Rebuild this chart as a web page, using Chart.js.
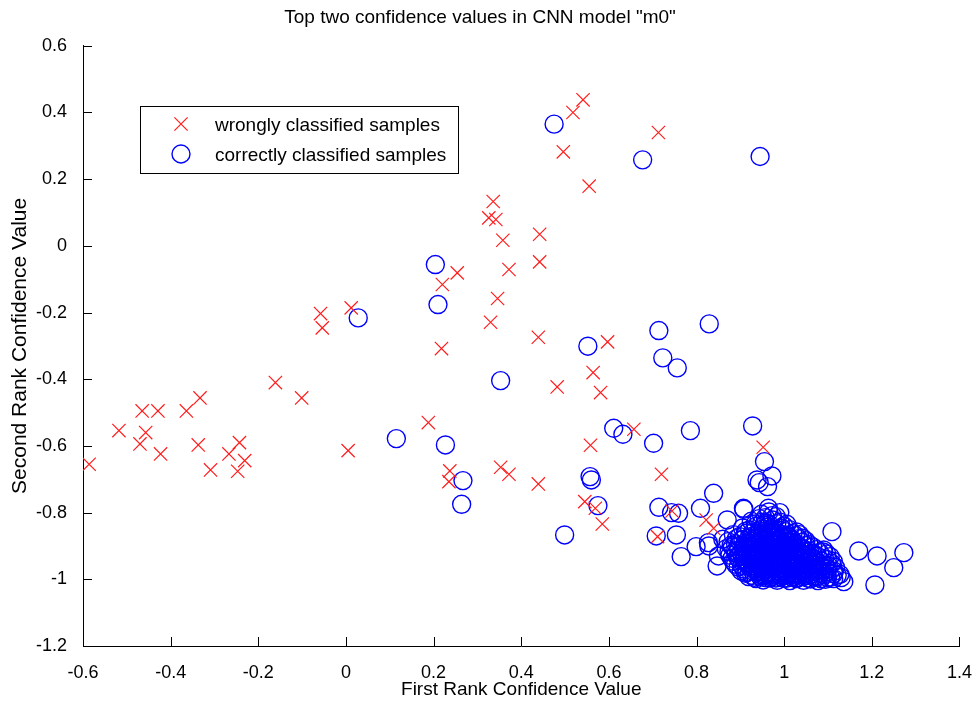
<!DOCTYPE html>
<html>
<head>
<meta charset="utf-8">
<script src="https://cdn.jsdelivr.net/npm/chart.js@4.4.1/dist/chart.umd.min.js"></script>
<style>
  html, body { margin: 0; padding: 0; background: #fff; }
</style>
</head>
<body>
<canvas id="myChart" width="980" height="701"></canvas>
<script>
var FONT = '"Liberation Sans", Arial, sans-serif';

var xTicks = [-0.6, -0.4, -0.2, 0, 0.2, 0.4, 0.6, 0.8, 1, 1.2, 1.4];
var yTicks = [-1.2, -1, -0.8, -0.6, -0.4, -0.2, 0, 0.2, 0.4, 0.6];

// red crosses
var wrongly = [
  [-0.058, -0.203], [-0.054, -0.246], [0.012, -0.186], [0.220, -0.116], [0.254, -0.081],
  [0.218, -0.308], [0.541, 0.438], [0.518, 0.400], [0.713, 0.340], [0.496, 0.282],
  [0.555, 0.179], [0.336, 0.133], [0.326, 0.084], [0.342, 0.079], [0.358, 0.017],
  [0.442, 0.035], [0.442, -0.048], [0.372, -0.071], [0.346, -0.158], [0.330, -0.229],
  [0.439, -0.274], [0.597, -0.288], [-0.586, -0.655], [-0.518, -0.554], [-0.465, -0.495],
  [-0.429, -0.495], [-0.457, -0.560], [-0.470, -0.594], [-0.423, -0.624], [-0.364, -0.495],
  [-0.333, -0.456], [-0.337, -0.597], [-0.309, -0.672], [-0.267, -0.624], [-0.243, -0.590],
  [-0.231, -0.644], [-0.247, -0.676], [-0.161, -0.410], [-0.101, -0.456], [0.005, -0.614],
  [0.188, -0.530], [0.237, -0.675], [0.235, -0.707], [0.564, -0.380], [0.482, -0.423],
  [0.581, -0.440], [0.657, -0.550], [0.558, -0.598], [0.353, -0.664], [0.372, -0.685],
  [0.439, -0.714], [0.720, -0.685], [0.952, -0.604], [0.545, -0.767], [0.569, -0.787],
  [0.585, -0.834], [0.744, -0.795], [0.822, -0.822], [0.839, -0.847], [0.711, -0.872]
];

// blue circles, scattered ones
var correctlyOuter = [
  [0.204, -0.056], [0.210, -0.176], [0.028, -0.216], [0.475, 0.365], [0.677, 0.258],
  [0.945, 0.268], [0.714, -0.254], [0.829, -0.234], [0.552, -0.301], [0.723, -0.336],
  [0.756, -0.366], [0.115, -0.578], [0.227, -0.597], [0.267, -0.704], [0.264, -0.775],
  [0.353, -0.404], [0.611, -0.547], [0.632, -0.565], [0.702, -0.592], [0.786, -0.554],
  [0.928, -0.540], [0.557, -0.692], [0.560, -0.702], [0.575, -0.779], [0.499, -0.867],
  [0.714, -0.784], [0.743, -0.800], [0.759, -0.802], [0.708, -0.870], [0.754, -0.867],
  [0.765, -0.932], [0.799, -0.902], [0.809, -0.787], [0.839, -0.742], [0.828, -0.900],
  [0.847, -0.960], [0.955, -0.647], [0.938, -0.702], [0.943, -0.710], [0.972, -0.690],
  [0.962, -0.722], [1.109, -0.857], [1.170, -0.915], [1.212, -0.930], [1.273, -0.920],
  [1.250, -0.965], [1.207, -1.017], [1.136, -1.007], [1.130, -0.995], [0.908, -0.790],
  [0.870, -0.822], [0.907, -0.787], [0.964, -0.787], [0.990, -0.800], [0.827, -0.890],
  [1.090, -0.912], [0.860, -0.880], [0.850, -0.930]
];

// blue circles, dense group near (1, -0.95)
var correctlyDense = [
  [0.948, -0.805], [0.965, -0.798], [0.982, -0.812],
  [0.925, -0.826], [0.943, -0.818], [0.958, -0.831], [0.974, -0.822], [0.991, -0.829], [1.006, -0.835],
  [0.905, -0.846], [0.921, -0.852], [0.936, -0.841], [0.951, -0.849], [0.964, -0.843], [0.979, -0.853],
  [0.993, -0.846], [1.012, -0.851], [1.028, -0.858],
  [0.884, -0.866], [0.898, -0.872], [0.913, -0.862], [0.927, -0.871], [0.941, -0.865], [0.956, -0.874],
  [0.969, -0.864], [0.983, -0.871], [0.997, -0.866], [1.011, -0.874], [1.026, -0.869], [1.042, -0.877],
  [0.872, -0.887], [0.889, -0.893], [0.903, -0.882], [0.917, -0.891], [0.931, -0.885], [0.945, -0.894],
  [0.958, -0.884], [0.971, -0.892], [0.985, -0.886], [0.998, -0.895], [1.012, -0.887], [1.027, -0.893],
  [1.041, -0.889], [1.057, -0.896],
  [0.868, -0.908], [0.882, -0.903], [0.896, -0.912], [0.909, -0.905], [0.923, -0.913], [0.936, -0.904],
  [0.949, -0.911], [0.962, -0.906], [0.975, -0.914], [0.988, -0.903], [1.001, -0.912], [1.015, -0.907],
  [1.029, -0.915], [1.044, -0.909], [1.058, -0.916], [1.074, -0.911], [1.089, -0.918],
  [0.876, -0.928], [0.891, -0.922], [0.904, -0.931], [0.918, -0.925], [0.931, -0.933], [0.944, -0.924],
  [0.956, -0.932], [0.968, -0.926], [0.980, -0.934], [0.993, -0.923], [1.005, -0.931], [1.018, -0.927],
  [1.032, -0.935], [1.046, -0.928], [1.061, -0.936], [1.076, -0.931], [1.092, -0.938], [1.105, -0.932],
  [0.884, -0.946], [0.898, -0.941], [0.911, -0.950], [0.924, -0.944], [0.937, -0.953], [0.949, -0.942],
  [0.961, -0.951], [0.973, -0.945], [0.985, -0.954], [0.997, -0.943], [1.009, -0.952], [1.022, -0.947],
  [1.035, -0.955], [1.049, -0.948], [1.063, -0.956], [1.078, -0.951], [1.093, -0.958], [1.108, -0.952],
  [0.895, -0.963], [0.908, -0.969], [0.921, -0.961], [0.933, -0.972], [0.945, -0.964], [0.957, -0.971],
  [0.969, -0.962], [0.981, -0.973], [0.993, -0.965], [1.005, -0.971], [1.017, -0.963], [1.029, -0.974],
  [1.042, -0.966], [1.056, -0.973], [1.070, -0.967], [1.084, -0.975], [1.099, -0.969], [1.114, -0.976],
  [0.912, -0.982], [0.926, -0.988], [0.939, -0.979], [0.951, -0.990], [0.963, -0.983], [0.975, -0.991],
  [0.987, -0.981], [0.999, -0.989], [1.011, -0.984], [1.023, -0.992], [1.035, -0.983], [1.048, -0.990],
  [1.062, -0.985], [1.076, -0.993], [1.091, -0.986], [1.106, -0.994], [1.121, -0.988],
  [0.936, -0.998], [0.952, -1.002], [0.968, -0.996], [0.984, -1.003], [0.998, -0.997], [1.013, -1.004],
  [1.028, -0.998], [1.044, -1.003], [1.060, -0.999], [1.077, -1.004], [1.094, -1.000],
  [0.955, -0.918], [0.982, -0.919], [1.008, -0.920], [0.967, -0.938], [0.992, -0.940], [1.016, -0.939],
  [0.951, -0.957], [0.977, -0.958], [1.003, -0.957], [1.028, -0.960], [0.963, -0.977], [0.989, -0.976],
  [1.016, -0.978], [1.041, -0.979], [0.975, -0.897], [1.000, -0.898], [0.962, -0.877], [0.990, -0.879],
  [0.970, -0.858], [0.955, -0.838],
  [0.957, -0.815], [0.973, -0.809],
  [0.934, -0.834], [0.949, -0.829], [0.966, -0.836], [0.983, -0.833], [0.999, -0.840],
  [0.912, -0.856], [0.928, -0.860], [0.944, -0.855], [0.958, -0.861], [0.975, -0.857], [0.987, -0.862],
  [1.003, -0.857], [1.020, -0.863], [1.035, -0.866],
  [0.891, -0.878], [0.906, -0.881], [0.920, -0.876], [0.934, -0.879], [0.948, -0.875], [0.963, -0.883],
  [0.977, -0.878], [0.991, -0.884], [1.004, -0.879], [1.018, -0.882], [1.033, -0.878], [1.049, -0.884],
  [0.879, -0.898], [0.895, -0.900], [0.910, -0.896], [0.924, -0.900], [0.938, -0.897], [0.951, -0.902],
  [0.965, -0.898], [0.992, -0.900], [1.006, -0.901], [1.021, -0.898], [1.035, -0.902], [1.050, -0.899],
  [1.065, -0.903],
  [0.874, -0.917], [0.889, -0.915], [0.902, -0.920], [0.916, -0.917], [0.929, -0.921], [0.942, -0.918],
  [0.969, -0.916], [0.995, -0.915], [1.022, -0.918], [1.037, -0.921], [1.051, -0.917], [1.066, -0.922],
  [1.081, -0.920], [1.097, -0.924],
  [0.881, -0.937], [0.894, -0.934], [0.908, -0.939], [0.921, -0.935], [0.934, -0.941], [0.955, -0.940],
  [0.979, -0.942], [1.004, -0.941], [1.028, -0.943], [1.041, -0.939], [1.055, -0.944], [1.069, -0.940],
  [1.084, -0.945], [1.100, -0.941], [1.112, -0.946],
  [0.889, -0.955], [0.903, -0.958], [0.916, -0.954], [0.929, -0.959], [0.941, -0.957], [0.964, -0.955],
  [0.989, -0.957], [1.015, -0.955], [1.041, -0.957], [1.055, -0.961], [1.070, -0.958], [1.086, -0.962],
  [1.101, -0.960], [1.117, -0.964],
  [0.902, -0.975], [0.915, -0.979], [0.927, -0.974], [0.940, -0.975], [0.952, -0.978], [0.976, -0.980],
  [1.002, -0.977], [1.029, -0.980], [1.054, -0.980], [1.068, -0.977], [1.083, -0.982], [1.098, -0.978],
  [1.113, -0.983], [1.127, -0.985],
  [0.919, -0.992], [0.932, -0.994], [0.945, -0.991], [0.958, -0.995], [0.970, -0.992], [0.981, -0.996],
  [0.993, -0.993], [1.005, -0.997], [1.017, -0.993], [1.030, -0.996], [1.042, -0.992], [1.055, -0.997],
  [1.069, -0.994], [1.084, -0.998], [1.099, -0.995], [1.113, -0.998],
  [0.940, -0.862], [0.953, -0.867], [0.967, -0.870], [0.980, -0.866], [0.994, -0.873], [1.007, -0.868],
  [0.924, -0.884], [0.938, -0.889], [0.952, -0.886], [0.966, -0.890], [0.979, -0.887], [0.993, -0.889],
  [1.006, -0.886], [1.020, -0.890],
  [0.914, -0.906], [0.928, -0.909], [0.942, -0.907], [0.956, -0.909], [0.969, -0.905], [0.982, -0.909],
  [0.996, -0.906], [1.010, -0.910], [1.024, -0.906], [1.038, -0.910],
  [0.910, -0.927], [0.924, -0.929], [0.938, -0.927], [0.951, -0.929], [0.963, -0.923], [0.975, -0.928],
  [0.987, -0.930], [0.999, -0.926], [1.012, -0.929], [1.025, -0.925], [1.039, -0.931], [1.053, -0.926],
  [0.917, -0.948], [0.930, -0.946], [0.943, -0.948], [0.955, -0.947], [0.967, -0.944], [0.979, -0.949],
  [0.991, -0.947], [1.003, -0.946], [1.015, -0.949], [1.028, -0.950], [1.042, -0.946], [1.057, -0.950],
  [1.071, -0.948],
  [0.927, -0.966], [0.939, -0.968], [0.951, -0.966], [0.963, -0.968], [0.975, -0.965], [0.987, -0.969],
  [0.999, -0.966], [1.011, -0.968], [1.023, -0.967], [1.036, -0.969], [1.049, -0.966], [1.063, -0.970],
  [1.077, -0.972],
  [0.945, -0.985], [0.957, -0.987], [0.969, -0.985], [0.981, -0.988], [0.993, -0.986], [1.005, -0.987],
  [1.017, -0.985], [1.029, -0.988], [1.041, -0.986], [1.055, -0.988], [1.069, -0.989]
];

function toPoints(list) {
  return list.map(function (p) { return { x: p[0], y: p[1] }; });
}

function fmt(v) {
  return String(Math.round(v * 10) / 10);
}

// ticks drawn inward, MATLAB style
var innerTicks = {
  id: 'innerTicks',
  afterDraw: function (chart) {
    var a = chart.chartArea, ctx = chart.ctx;
    var sx = chart.scales.x, sy = chart.scales.y;
    ctx.save();
    ctx.strokeStyle = '#000';
    ctx.lineWidth = 1;
    ctx.beginPath();
    sx.ticks.forEach(function (t) {
      var px = Math.round(sx.getPixelForValue(t.value)) + 0.5;
      ctx.moveTo(px, a.bottom);
      ctx.lineTo(px, a.bottom - 9);
    });
    sy.ticks.forEach(function (t) {
      var py = Math.round(sy.getPixelForValue(t.value)) + 0.5;
      ctx.moveTo(a.left, py);
      ctx.lineTo(a.left + 9, py);
    });
    ctx.stroke();
    ctx.restore();
  }
};

// legend box inside the plot
var legendBox = {
  id: 'legendBox',
  afterDraw: function (chart) {
    var ctx = chart.ctx;
    var ds = chart.data.datasets;
    ctx.save();
    ctx.fillStyle = '#fff';
    ctx.fillRect(140, 106, 318, 67);
    ctx.strokeStyle = '#000';
    ctx.lineWidth = 1;
    ctx.strokeRect(140.5, 106.5, 318, 67);

    var cx = 181, r;
    // cross
    ctx.strokeStyle = ds[0].borderColor;
    ctx.lineWidth = ds[0].borderWidth;
    r = 6.6;
    ctx.beginPath();
    ctx.moveTo(cx - r, 124 - r); ctx.lineTo(cx + r, 124 + r);
    ctx.moveTo(cx - r, 124 + r); ctx.lineTo(cx + r, 124 - r);
    ctx.stroke();
    // circle
    ctx.strokeStyle = ds[1].borderColor;
    ctx.lineWidth = ds[1].borderWidth;
    ctx.beginPath();
    ctx.arc(cx, 154, ds[1].pointRadius, 0, Math.PI * 2);
    ctx.stroke();

    ctx.fillStyle = '#000';
    ctx.font = '19px ' + FONT;
    ctx.textBaseline = 'middle';
    ctx.textAlign = 'left';
    ctx.fillText(ds[0].label, 215, 126);
    ctx.fillText(ds[1].label, 215, 156);
    ctx.restore();
  }
};

var ctx = document.getElementById('myChart');

var myChart = new Chart(ctx, {
  type: 'scatter',
  data: {
    datasets: [
      {
        label: 'wrongly classified samples',
        data: toPoints(wrongly),
        pointStyle: 'crossRot',
        pointRadius: 9.4,
        borderColor: 'rgb(255, 30, 30)',
        backgroundColor: 'rgba(0,0,0,0)',
        borderWidth: 1.2
      },
      {
        label: 'correctly classified samples',
        data: toPoints(correctlyOuter.concat(correctlyDense)),
        pointStyle: 'circle',
        pointRadius: 9,
        borderColor: 'rgb(0, 0, 255)',
        backgroundColor: 'rgba(0,0,0,0)',
        borderWidth: 1.4
      }
    ]
  },
  options: {
    responsive: false,
    animation: false,
    events: [],
    layout: { padding: { left: 0, right: 20, top: 0, bottom: 0 } },
    plugins: {
      legend: { display: false },
      tooltip: { enabled: false },
      title: {
        display: true,
        text: 'Top two confidence values in CNN model "m0"',
        color: '#000',
        font: { family: FONT, size: 19, weight: 'normal' },
        padding: { top: 6, bottom: 17 }
      }
    },
    scales: {
      x: {
        type: 'linear',
        min: -0.6,
        max: 1.4,
        afterBuildTicks: function (s) { s.ticks = xTicks.map(function (v) { return { value: v }; }); },
        afterFit: function (s) { s.height = 55; },
        grid: { display: false },
        border: { display: true, color: '#000', width: 1 },
        ticks: {
          color: '#000',
          padding: 8,
          maxRotation: 0,
          font: { family: FONT, size: 18 },
          callback: function (v) { return fmt(v); }
        },
        title: {
          display: true,
          text: 'First Rank Confidence Value',
          color: '#000',
          font: { family: FONT, size: 19 },
          padding: { top: 0, bottom: 0 }
        }
      },
      y: {
        type: 'linear',
        min: -1.2,
        max: 0.6,
        afterBuildTicks: function (s) { s.ticks = yTicks.map(function (v) { return { value: v }; }); },
        afterFit: function (s) { s.width = 83; },
        grid: { display: false },
        border: { display: true, color: '#000', width: 1 },
        ticks: {
          color: '#000',
          padding: 8,
          font: { family: FONT, size: 18 },
          callback: function (v) { return fmt(v); }
        },
        title: {
          display: true,
          text: 'Second Rank Confidence Value',
          color: '#000',
          font: { family: FONT, size: 21 },
          padding: { top: 8, bottom: 0 }
        }
      }
    }
  },
  plugins: [innerTicks, legendBox]
});
</script>
</body>
</html>
